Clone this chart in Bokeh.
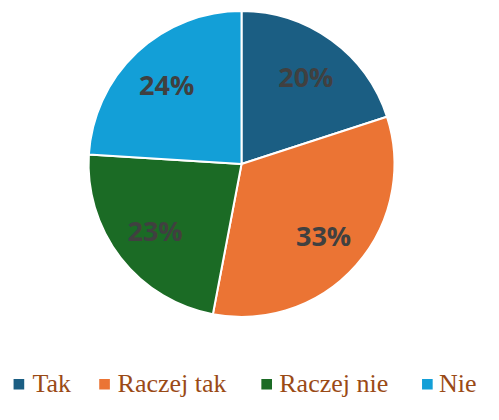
import numpy as np
from bokeh.plotting import figure
from bokeh.models import Range1d, ColumnDataSource, LabelSet
from bokeh.core.properties import value
from bokeh.embed import file_html
from bokeh.resources import INLINE

categories = ["Tak", "Raczej tak", "Raczej nie", "Nie"]
shares = [20, 33, 23, 24]
labels = ["20%", "33%", "23%", "24%"]
colors = ["#1B5E83", "#EB7434", "#1B6B25", "#139FD7"]

W, H = 483, 404
# data units are laid out on a 499 x 420 design grid
DW, DH = 499, 420
cx, cy, R = 249, 250, 158
label_r = 113

p = figure(width=W, height=H, output_backend="svg", toolbar_location=None,
           x_range=Range1d(0, DW), y_range=Range1d(0, DH), min_border=0)
p.axis.visible = False
p.grid.visible = False
p.outline_line_color = None
p.background_fill_color = "white"

frac = np.array(shares, dtype=float) / sum(shares)
cum = np.concatenate([[0], np.cumsum(frac)])
start = np.pi / 2 - cum[:-1] * 2 * np.pi
end = np.pi / 2 - cum[1:] * 2 * np.pi
mid = (start + end) / 2

src = ColumnDataSource(dict(start=start, end=end, color=colors,
                            lx=cx + label_r * np.cos(mid),
                            ly=cy + label_r * np.sin(mid), label=labels))
p.wedge(x=cx, y=cy, radius=R, start_angle="start", end_angle="end",
        direction="clock", fill_color="color", line_color="white",
        line_width=2, source=src)
p.text(x="lx", y="ly", text="label", source=src, text_align="center",
       text_baseline="middle", text_font=value("Open Sans"),
       text_font_style="bold", text_font_size="27px", text_color="#404040")

# legend
leg_marker_x = [19, 107.5, 275, 441]
leg_text_x = [33, 121, 288, 453]
leg_y = 13
lsrc = ColumnDataSource(dict(mx=leg_marker_x, tx=leg_text_x, cat=categories,
                             color=colors, ty=[leg_y] * 4))
p.rect(x="mx", y=leg_y + 8, width=11, height=11, fill_color="color",
       line_color=None, source=lsrc)
p.add_layout(LabelSet(x="tx", y="ty", text="cat", source=lsrc,
                      text_align="left", text_baseline="alphabetic",
                      text_font=value("Liberation Serif"),
                      text_font_size="26px", text_color="#9A4A16"))

open("out.html", "w").write(file_html(p, INLINE))
